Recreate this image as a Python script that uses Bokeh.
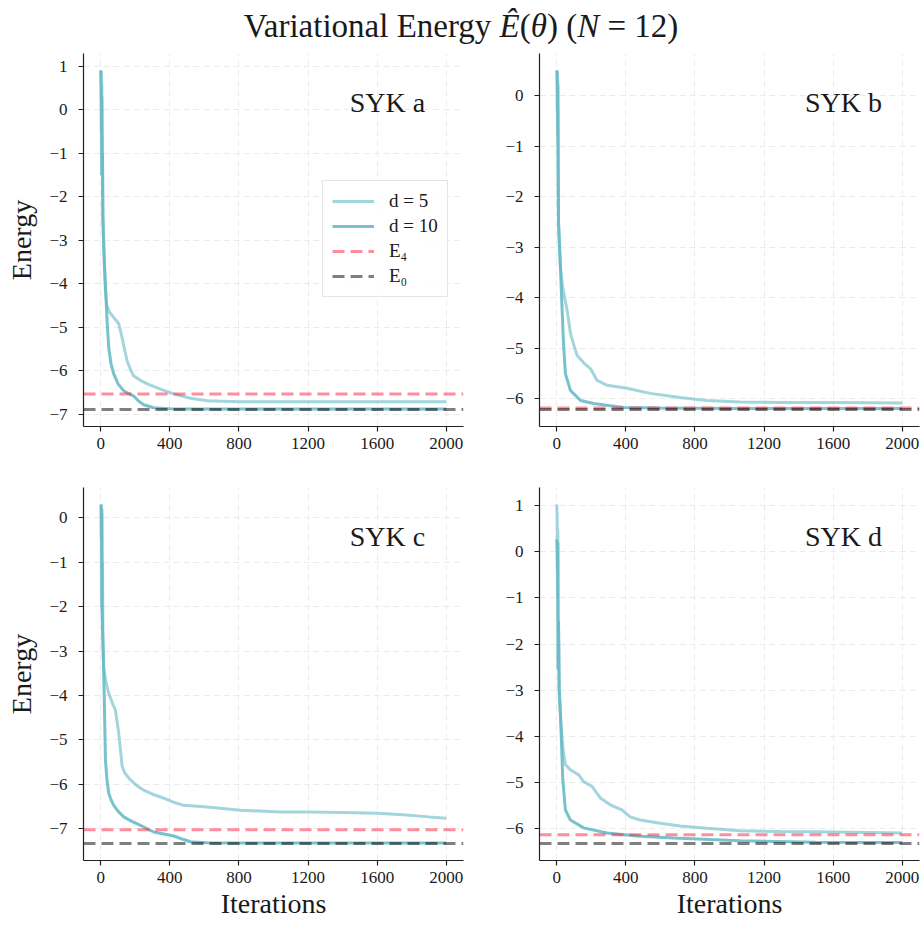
from bokeh.plotting import figure
from bokeh.models import Range1d, FixedTicker, Label, Legend, LegendItem, Div
from bokeh.layouts import gridplot, column
from bokeh.embed import file_html
from bokeh.resources import INLINE

# ---------------- data ----------------
panels = ["SYK a", "SYK b", "SYK c", "SYK d"]

it_a5 = [0, 2, 4, 6, 8, 10, 12, 15, 20, 26, 35, 50, 80, 104, 124, 140, 153, 175, 191, 230, 269, 346, 421, 520, 616, 800, 1200, 1600, 2000]
en_a5 = [0.85, 0.9, -1.5, 0.6, -0.5, -1.0, -2.2, -2.8, -3.5, -4.1, -4.5, -4.65, -4.8, -4.92, -5.25, -5.55, -5.78, -6.0, -6.12, -6.22, -6.3, -6.42, -6.53, -6.63, -6.69, -6.71, -6.71, -6.71, -6.71]
it_a10 = [0, 2, 4, 6, 8, 10, 12, 16, 22, 30, 37, 47, 60, 75, 100, 133, 160, 191, 220, 249, 305, 400, 600, 1000, 1500, 2000]
en_a10 = [0.9, 0.5, -0.5, 0.3, -1.5, -1.0, -2.5, -3.0, -3.6, -4.3, -4.9, -5.5, -5.85, -6.07, -6.3, -6.46, -6.52, -6.58, -6.7, -6.78, -6.85, -6.87, -6.88, -6.88, -6.88, -6.88]

it_b5 = [0, 2, 4, 6, 8, 10, 14, 21, 35, 60, 79, 100, 118, 160, 195, 233, 291, 406, 541, 714, 868, 1061, 1300, 1600, 2000]
en_b5 = [0.5, 0.45, -0.8, 0.3, -1.5, -2.5, -2.9, -3.39, -3.8, -4.25, -4.7, -4.95, -5.14, -5.3, -5.4, -5.63, -5.73, -5.79, -5.89, -5.97, -6.03, -6.06, -6.07, -6.07, -6.08]
it_b10 = [0, 2, 4, 6, 8, 10, 14, 20, 27, 39, 50, 79, 137, 214, 300, 387, 600, 1000, 1500, 2000]
en_b10 = [0.45, 0.5, -0.3, 0.2, -1.2, -2.5, -2.8, -3.3, -3.91, -4.9, -5.5, -5.83, -6.03, -6.09, -6.13, -6.17, -6.18, -6.19, -6.19, -6.19]

it_c5 = [0, 2, 4, 6, 8, 10, 13, 17, 30, 46, 70, 85, 104, 124, 140, 172, 210, 249, 300, 365, 420, 481, 616, 809, 1040, 1200, 1400, 1600, 1750, 1900, 2000]
en_c5 = [0.3, 0.25, -2.0, 0.1, -2.15, -1.0, -2.8, -3.36, -3.7, -3.95, -4.2, -4.33, -4.85, -5.6, -5.75, -5.9, -6.03, -6.13, -6.22, -6.31, -6.4, -6.47, -6.51, -6.58, -6.62, -6.62, -6.63, -6.65, -6.68, -6.73, -6.76]
it_c10 = [0, 2, 4, 6, 8, 10, 14, 20, 27, 36, 46, 60, 75, 100, 133, 180, 230, 307, 423, 480, 519, 616, 800, 1200, 1600, 2000]
en_c10 = [0.3, 0.28, -0.5, 0.2, -2.0, -2.5, -3.0, -4.0, -5.45, -5.9, -6.2, -6.35, -6.47, -6.6, -6.73, -6.83, -6.92, -7.07, -7.16, -7.24, -7.29, -7.31, -7.32, -7.32, -7.32, -7.32]

it_d5 = [0, 2, 4, 6, 8, 10, 14, 20, 30, 40, 50, 79, 127, 156, 204, 252, 310, 377, 425, 483, 580, 714, 868, 1061, 1300, 1600, 2000]
en_d5 = [1.03, 0.8, -1.0, 0.5, -2.5, -1.5, -3.0, -3.5, -4.0, -4.4, -4.62, -4.73, -4.84, -4.99, -5.09, -5.34, -5.49, -5.6, -5.75, -5.82, -5.88, -5.95, -6.0, -6.05, -6.07, -6.08, -6.1]
it_d10 = [0, 2, 4, 6, 8, 10, 14, 21, 35, 50, 79, 156, 291, 483, 676, 1061, 1500, 2000]
en_d10 = [0.27, 0.1, -0.38, 0.2, -2.56, -1.5, -3.0, -3.49, -4.95, -5.6, -5.82, -5.99, -6.1, -6.17, -6.21, -6.27, -6.3, -6.31]

E4 = [-6.53, -6.18, -7.02, -6.14]
E0 = [-6.89, -6.21, -7.33, -6.33]

x_ticks = [0, 400, 800, 1200, 1600, 2000]
y_ticks = [[-7, -6, -5, -4, -3, -2, -1, 0, 1],
           [-6, -5, -4, -3, -2, -1, 0],
           [-7, -6, -5, -4, -3, -2, -1, 0],
           [-6, -5, -4, -3, -2, -1, 0, 1]]

legend_labels = ["d = 5", "d = 10", "E\u2084", "E\u2080"]
title_html = "Variational Energy <i>\u00ca</i>(<i>\u03b8</i>) (<i>N</i> = 12)"

# ---------------- style ----------------
FONT = "Liberation Serif"
TXT = "#1a1a1a"
CYAN = "#64b9c5"
PINK = "#ff1e3c"
X_LO, X_HI = -100, 2100


def minus(t):
    return ("\u2212" + str(abs(t))) if t < 0 else str(t)


def make_panel(k, it5, en5, it10, en10, left_border, right_border, bottom_border, ylab, xlab, with_legend):
    lo = min(min(en5), min(en10), E4[k], E0[k])
    hi = max(max(en5), max(en10), E4[k], E0[k])
    pad = 0.05 * (hi - lo)
    p = figure(frame_width=380, frame_height=373,
               x_range=Range1d(X_LO, X_HI), y_range=Range1d(lo - pad, hi + pad),
               output_backend="svg", toolbar_location=None,
               min_border_left=left_border, min_border_right=right_border,
               min_border_top=5, min_border_bottom=bottom_border)
    p.outline_line_color = None
    p.background_fill_color = "white"
    for g in (p.xgrid[0], p.ygrid[0]):
        g.grid_line_color = "#ebebeb"
        g.grid_line_dash = "6 4"
        g.grid_line_width = 1
    p.xaxis.ticker = FixedTicker(ticks=x_ticks)
    p.yaxis.ticker = FixedTicker(ticks=y_ticks[k])
    p.yaxis.major_label_overrides = {t: minus(t) for t in y_ticks[k]}
    for ax in (p.xaxis[0], p.yaxis[0]):
        ax.axis_line_color = "#222222"
        ax.axis_line_width = 1.2
        ax.major_tick_line_color = "#222222"
        ax.major_tick_line_width = 1.2
        ax.major_tick_in = 0
        ax.major_tick_out = 5
        ax.minor_tick_line_color = None
        ax.major_label_text_font = FONT
        ax.major_label_text_font_size = "17px"
        ax.major_label_text_color = TXT
        ax.axis_label_text_font = FONT
        ax.axis_label_text_font_size = "28px"
        ax.axis_label_text_font_style = "normal"
        ax.axis_label_text_color = TXT
    p.xaxis.major_label_standoff = 6
    p.yaxis.major_label_standoff = 11
    p.yaxis.axis_label_standoff = 9
    p.xaxis.axis_label_standoff = 2
    if ylab:
        p.yaxis.axis_label = "Energy"
    if xlab:
        p.xaxis.axis_label = "Iterations"

    r5 = p.line(it5, en5, line_color=CYAN, line_alpha=0.6, line_width=3)
    r10 = p.line(it10, en10, line_color=CYAN, line_alpha=0.88, line_width=3)
    r4 = p.line([X_LO, X_HI], [E4[k], E4[k]], line_color=PINK, line_alpha=0.5,
                line_width=3, line_dash="12 6")
    r0 = p.line([X_LO, X_HI], [E0[k], E0[k]], line_color="black", line_alpha=0.5,
                line_width=3, line_dash="12 6")

    yr0, yr1 = lo - pad, hi + pad
    p.add_layout(Label(x=X_LO + 0.80 * (X_HI - X_LO), y=yr0 + 0.868 * (yr1 - yr0),
                       text=panels[k], text_align="center", text_baseline="middle",
                       text_font=FONT, text_font_size="28px", text_color=TXT))

    if with_legend:
        leg = Legend(items=[LegendItem(label=legend_labels[0], renderers=[r5]),
                            LegendItem(label=legend_labels[1], renderers=[r10]),
                            LegendItem(label=legend_labels[2], renderers=[r4]),
                            LegendItem(label=legend_labels[3], renderers=[r0])],
                     location=(239, 129))
        leg.label_text_font = FONT
        leg.label_text_font_size = "19px"
        leg.label_text_color = TXT
        leg.label_text_baseline = "middle"
        leg.glyph_width = 42
        leg.glyph_height = 18
        leg.label_height = 18
        leg.label_standoff = 15
        leg.spacing = 3
        leg.padding = 9
        leg.margin = 0
        leg.border_line_color = "#cccccc"
        leg.border_line_width = 1
        leg.background_fill_color = "white"
        leg.background_fill_alpha = 0.9
        p.add_layout(leg)
    return p


pa = make_panel(0, it_a5, en_a5, it_a10, en_a10, 83, 8, 56, True, False, True)
pb = make_panel(1, it_b5, en_b5, it_b10, en_b10, 68, 2, 56, False, False, False)
pc = make_panel(2, it_c5, en_c5, it_c10, en_c10, 83, 8, 60, True, True, False)
pd = make_panel(3, it_d5, en_d5, it_d10, en_d10, 68, 2, 60, False, True, False)

title = Div(text=('<div style="font-family:\'Liberation Serif\'; font-size:33px; color:#1a1a1a; '
                  'text-align:center; width:892px; padding-left:20px; padding-top:3px; '
                  'line-height:36px;">' + title_html + '</div>'),
            width=912, height=38)

grid = gridplot([[pa, pb], [pc, pd]], toolbar_location=None)
layout = column(title, grid)

open("out.html", "w").write(file_html(layout, INLINE))
